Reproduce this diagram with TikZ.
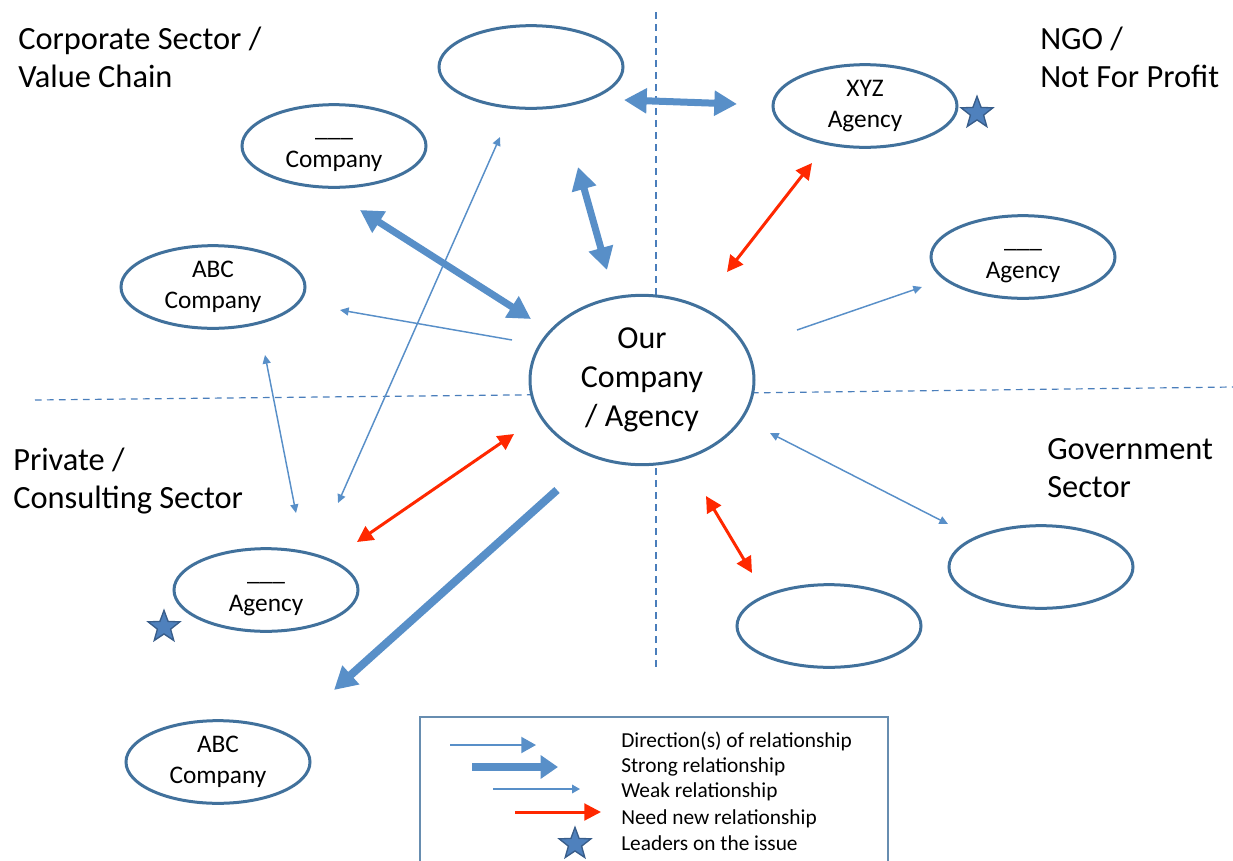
\documentclass[tikz,border=0pt]{standalone}
\usepackage{fontspec}
\setmainfont{Carlito}
\usetikzlibrary{arrows.meta,shapes.geometric}
\definecolor{ellcol}{RGB}{65,113,156}
\definecolor{arrblue}{RGB}{88,143,200}
\definecolor{dashblue}{RGB}{74,126,187}
\definecolor{redarr}{RGB}{255,40,0}
\definecolor{starfill}{RGB}{79,129,189}
\definecolor{stardraw}{RGB}{56,93,138}
\begin{document}
\begin{tikzpicture}[x=0.75pt,y=-0.75pt,
  ell/.style={ellipse, draw=ellcol, line width=2.25pt, fill=white,
    minimum width=138pt, minimum height=62pt, inner sep=0pt, align=center,
    font=\fontsize{19}{23}\selectfont},
  bigell/.style={ell, minimum width=168pt, minimum height=127pt,
    font=\fontsize{24}{29}\selectfont},
  title/.style={anchor=base west, inner sep=0pt, align=left,
    font=\fontsize{24.3}{28.5}\selectfont},
  legtext/.style={anchor=base west, inner sep=0pt, font=\fontsize{16}{19}\selectfont},
  divider/.style={draw=dashblue, line width=0.9pt, dash pattern=on 5pt off 4pt},
  strongarr/.style={draw=arrblue, line width=5.25pt, -{Triangle[length=17pt,width=18pt]}},
  strongboth/.style={draw=arrblue, line width=5.25pt, {Triangle[length=17pt,width=18pt]}-{Triangle[length=17pt,width=18pt]}},
  redboth/.style={draw=redarr, line width=2.25pt, {Triangle[length=12pt,width=12pt]}-{Triangle[length=12pt,width=12pt]}},
  weakarr/.style={draw=arrblue, line width=1.1pt, -{Triangle[length=6.5pt,width=6pt]}},
  weakboth/.style={draw=arrblue, line width=1.1pt, {Triangle[length=6.5pt,width=6pt]}-{Triangle[length=6.5pt,width=6pt]}},
  leader/.style={star, star points=5, star point ratio=2.4, minimum size=25pt,
    inner sep=0pt, fill=starfill, draw=stardraw, line width=1pt}
]
\useasboundingbox (0,0) rectangle (1233,861);

% quadrant dividers
\coordinate (vt) at (656,12);
\coordinate (vb) at (656,668);
\coordinate (hl) at (35,400);
\coordinate (hlm) at (560,394.5);
\coordinate (hrm) at (740,393);
\coordinate (hr) at (1233,387);
\draw[divider] (vt) -- (vb);
\draw[divider] (hl) -- (hlm);
\draw[divider] (hrm) -- (hr);

% ellipses
\node[ell] (top) at (531,67) {};
\node[ell] (comp1) at (334,146) {\_\_\_\vphantom{Ag}\\Company};
\node[ell] (abc1) at (213,287) {ABC\\Company};
\node[ell] (xyz) at (865,106) {XYZ\\Agency};
\node[ell] (ag1) at (1023,257) {\_\_\_\vphantom{Ag}\\Agency};
\node[bigell] (our) at (642,380) {Our\\Company\\/ Agency};
\node[ell] (gov) at (1041,567) {};
\node[ell] (botm) at (829,626) {};
\node[ell] (ag2) at (266,590) {\_\_\_\vphantom{Ag}\\Agency};
\node[ell] (abc2) at (218,762) {ABC\\Company};

% stars
\node[leader] (s1) at (977,113) {};
\node[leader] (s2) at (164,627) {};

% sector titles
\node[title] (t1) at (18,87) {Corporate Sector /\\Value Chain};
\node[title] (t2) at (1040,87) {NGO /\\Not For Profit};
\node[title] (t3) at (13,508) {Private /\\Consulting Sector};
\node[title] (t4) at (1047,497) {Government\\Sector};

% arrow end points
\coordinate (a1s) at (624,100); \coordinate (a1e) at (737,104);
\coordinate (a2s) at (578,167); \coordinate (a2e) at (607,270);
\coordinate (a3s) at (360,210); \coordinate (a3e) at (531,319);
\coordinate (a4s) at (557,490); \coordinate (a4e) at (334,690);
\coordinate (r1s) at (812,163); \coordinate (r1e) at (727,272);
\coordinate (r2s) at (357,542); \coordinate (r2e) at (514,434);
\coordinate (r3s) at (706,496); \coordinate (r3e) at (752,573);
\coordinate (w1s) at (797,330); \coordinate (w1e) at (922,287);
\coordinate (w2s) at (512,340); \coordinate (w2e) at (340,310);
\coordinate (w3s) at (265,355); \coordinate (w3e) at (296,513);
\coordinate (w4s) at (338,503); \coordinate (w4e) at (500,137);
\coordinate (w5s) at (770,433); \coordinate (w5e) at (948,524);

\draw[strongboth] (a1s) -- (a1e);
\draw[strongboth] (a2s) -- (a2e);
\draw[strongboth] (a3s) -- (a3e);
\draw[strongarr, line width=6pt] (a4s) -- (a4e);
\draw[redboth] (r1s) -- (r1e);
\draw[redboth] (r2s) -- (r2e);
\draw[redboth] (r3s) -- (r3e);
\draw[weakarr] (w1s) -- (w1e);
\draw[weakarr] (w2s) -- (w2e);
\draw[weakboth] (w3s) -- (w3e);
\draw[weakboth] (w4s) -- (w4e);
\draw[weakboth] (w5s) -- (w5e);

% legend
\coordinate (lbl) at (420,875);
\coordinate (ltl) at (420,717);
\coordinate (ltr) at (888,717);
\coordinate (lbr) at (888,875);
\draw[draw=ellcol!80, line width=1pt] (lbl) -- (ltl) -- (ltr) -- (lbr);

\node[legtext] (l1) at (621,747) {Direction(s) of relationship};
\node[legtext] (l2) at (621,772) {Strong  relationship};
\node[legtext] (l3) at (621,797) {Weak relationship};
\node[legtext] (l4) at (621,824) {Need new relationship};
\node[legtext] (l5) at (621,850) {Leaders on the issue};

\coordinate (g1s) at (450,745); \coordinate (g1e) at (536,745);
\coordinate (g2s) at (472,767); \coordinate (g2e) at (558,767);
\coordinate (g3s) at (493,789); \coordinate (g3e) at (580,789);
\coordinate (g4s) at (515,812); \coordinate (g4e) at (601,812);
\draw[draw=arrblue, line width=1.5pt, -{Triangle[length=11pt,width=12pt]}] (g1s) -- (g1e);
\draw[draw=arrblue, line width=5.5pt, -{Triangle[length=13pt,width=17pt]}] (g2s) -- (g2e);
\draw[draw=arrblue, line width=1pt, -{Triangle[length=6pt,width=6.5pt]}] (g3s) -- (g3e);
\draw[draw=redarr, line width=2.25pt, -{Triangle[length=12.5pt,width=12.5pt]}] (g4s) -- (g4e);
\node[leader] (s3) at (575,844) {};
\end{tikzpicture}
\end{document}
